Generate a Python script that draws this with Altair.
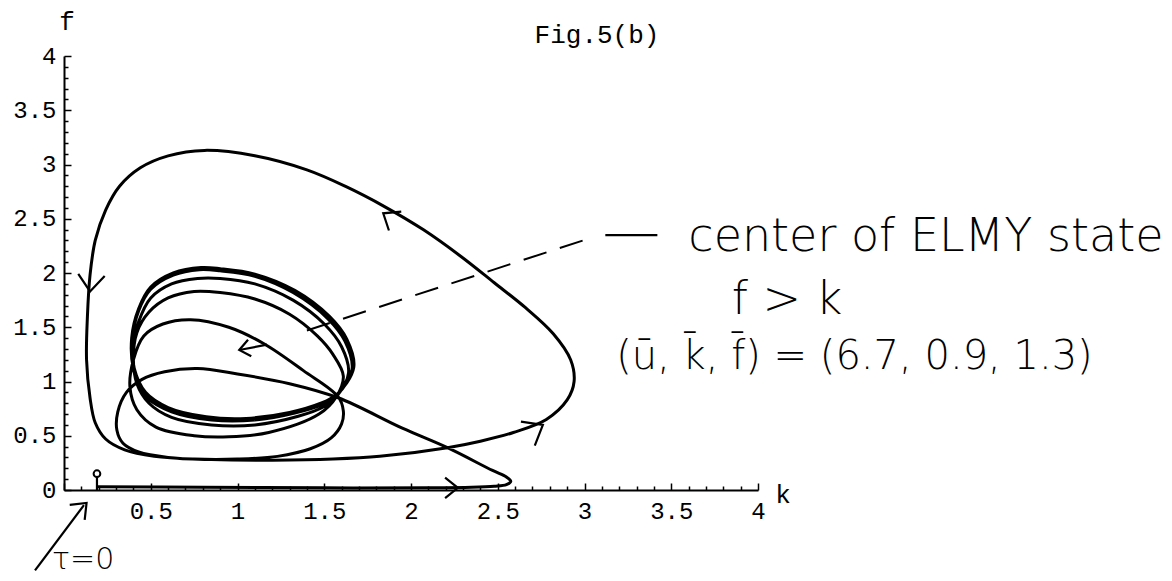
import altair as alt
import pandas as pd

# ---- trajectory in the (k, f) plane, listed in order of increasing tau ----
axis_run = [(0.19, 0.03), (0.8, 0.025), (1.5, 0.02), (2.1, 0.02), (2.35, 0.025),
            (2.48, 0.035), (2.55, 0.05), (2.575, 0.08), (2.55, 0.12), (2.47, 0.18)]
rise = [(2.21, 0.39), (1.95, 0.57), (1.58, 0.85), (1.3, 0.98), (1.0, 1.07),
        (0.77, 1.12), (0.58, 1.09), (0.45, 1.02), (0.36, 0.9), (0.31, 0.72),
        (0.305, 0.55), (0.34, 0.43), (0.43, 0.35), (0.6, 0.3), (0.85, 0.28)]
excursion = [(1.2, 0.275), (1.55, 0.285), (1.82, 0.31), (2.21, 0.39), (2.4, 0.45),
             (2.59, 0.53), (2.78, 0.65), (2.9, 0.83), (2.94, 1.0), (2.92, 1.2),
             (2.82, 1.44), (2.66, 1.68), (2.48, 1.91), (2.29, 2.15), (2.07, 2.4),
             (1.85, 2.61), (1.62, 2.8), (1.4, 2.95), (1.1, 3.08), (0.81, 3.13),
             (0.6, 3.08), (0.44, 2.97), (0.32, 2.8), (0.24, 2.58), (0.18, 2.3),
             (0.15, 1.98), (0.135, 1.6), (0.13, 1.2), (0.15, 0.85), (0.18, 0.62),
             (0.24, 0.47), (0.35, 0.37), (0.52, 0.31), (0.75, 0.285), (1.0, 0.285)]
return_leg = [(1.23, 0.31), (1.42, 0.38), (1.54, 0.48), (1.6, 0.61), (1.61, 0.73),
              (1.58, 0.86)]
loop_a = [(1.38, 1.1), (1.15, 1.35), (0.95, 1.5), (0.73, 1.57), (0.57, 1.53),
          (0.46, 1.42), (0.40, 1.2), (0.38, 0.95), (0.42, 0.74), (0.53, 0.58),
          (0.75, 0.5), (0.95, 0.49), (1.18, 0.53), (1.47, 0.70), (1.57, 0.86)]
loop_b = [(1.61, 1.05), (1.55, 1.25), (1.46, 1.42), (1.3, 1.62), (1.1, 1.76),
          (0.9, 1.82), (0.75, 1.83), (0.6, 1.77), (0.49, 1.64), (0.42, 1.45),
          (0.40, 1.2), (0.42, 0.98), (0.49, 0.8), (0.62, 0.67), (0.85, 0.6),
          (1.1, 0.6), (1.35, 0.68), (1.5, 0.77), (1.57, 0.86)]
loop_c = [(1.64, 1.08), (1.6, 1.32), (1.5, 1.53), (1.32, 1.75), (1.1, 1.9),
          (0.9, 1.95), (0.77, 1.95), (0.62, 1.9), (0.5, 1.77), (0.43, 1.55),
          (0.395, 1.3), (0.41, 1.05), (0.48, 0.85), (0.62, 0.72), (0.85, 0.645),
          (1.1, 0.645), (1.33, 0.71), (1.49, 0.79), (1.57, 0.87)]
loop_d = [(1.66, 1.11), (1.62, 1.37), (1.52, 1.58), (1.32, 1.82), (1.1, 1.97),
          (0.9, 2.02), (0.78, 2.03), (0.63, 1.98), (0.5, 1.85), (0.43, 1.65),
          (0.395, 1.4), (0.405, 1.12), (0.47, 0.9), (0.6, 0.76), (0.82, 0.675),
          (1.05, 0.66), (1.3, 0.715), (1.48, 0.8), (1.57, 0.875)]
loop_e = [(1.67, 1.13), (1.63, 1.39), (1.53, 1.6), (1.33, 1.84), (1.1, 1.99),
          (0.9, 2.04), (0.79, 2.05), (0.63, 2.0), (0.5, 1.87), (0.43, 1.67),
          (0.39, 1.4), (0.40, 1.12), (0.465, 0.89), (0.6, 0.75), (0.82, 0.665),
          (1.05, 0.65), (1.3, 0.705), (1.48, 0.795), (1.57, 0.875)]

# ---- axis ticks ----
x_major = [0.5, 1, 1.5, 2, 2.5, 3, 3.5, 4]
y_major = [0, 0.5, 1, 1.5, 2, 2.5, 3, 3.5, 4]
minor = [round(i * 0.1, 1) for i in range(41) if i % 5 != 0]

# ---- hand annotations ----
guide_k = [1.40, 3.03]                    # dashed pointer to the centre
guide_f = [1.47, 2.32]
dash_k = [3.12, 3.42]                     # stroke before the note
dash_f = [2.35, 2.35]
shaft_k = [1.17, 1.01]                    # shaft of the inner arrow
shaft_f = [1.34, 1.29]
tau_k = [-0.167, 0.115]                   # pointer to the starting point
tau_f = [-0.74, -0.14]
mark_k = [0.19, 0.19]                     # stem of the start mark
mark_f = [0.0, 0.12]

arrow_k = [0.15, 1.84, 2.76, 2.27, 1.01, 0.13]
arrow_f = [1.83, 2.55, 0.60, 0.02, 1.29, -0.12]
arrow_angle = [95, 213, 330, 0, 169, 315]
arrow_size = [1100, 800, 1200, 650, 450, 700]

note_k = [4.968, 4.167, 4.556, 0.11]
note_f = [2.332, 1.751, 1.226, -0.645]
note_text = ["center of ELMY state", "f > k",
             "(u\u0304, k\u0304, f\u0304) = (6.7, 0.9, 1.3)", "\u03c4=0"]
note_size = [46, 46, 40, 30]

W, H = 694, 434
xs = alt.Scale(domain=[0, 4], nice=False, zero=False)
ys = alt.Scale(domain=[0, 4], nice=False, zero=False)

rows = []
for seg in [axis_run, rise, excursion, return_leg, loop_a, loop_b, loop_c, loop_d, loop_e]:
    for k, f in seg:
        rows.append({"i": len(rows), "k": k, "f": f})
traj = pd.DataFrame(rows)

mono = "Liberation Mono"
hand = "DejaVu Sans"

traj_line = alt.Chart(traj).mark_line(
    color="black", strokeWidth=3, interpolate="catmull-rom", clip=False
).encode(
    x=alt.X("k:Q", scale=xs, axis=alt.Axis(
        orient="bottom", values=x_major, format="~g", ticks=False, grid=False,
        domainColor="black", domainWidth=2, labelFont=mono, labelFontSize=24,
        labelColor="black", labelPadding=9, title=None, labelFlush=False)),
    y=alt.Y("f:Q", scale=ys, axis=alt.Axis(
        orient="left", values=y_major, format="~g", ticks=False, grid=False,
        domainColor="black", domainWidth=2, labelFont=mono, labelFontSize=24,
        labelColor="black", labelPadding=8, title=None, labelFlush=False)),
    order="i:Q",
)


def tick_layer(vals, size):
    return alt.Chart(traj).mark_point(opacity=0).encode(
        x=alt.X("k:Q", scale=xs, axis=alt.Axis(
            orient="top", offset=-H, values=vals, labels=False, domain=False,
            grid=False, ticks=True, tickSize=size, tickWidth=1.5,
            tickColor="black", title=None)),
        y=alt.Y("f:Q", scale=ys, axis=alt.Axis(
            orient="right", offset=-W, values=vals, labels=False, domain=False,
            grid=False, ticks=True, tickSize=size, tickWidth=1.5,
            tickColor="black", title=None)),
    )


major_ticks = tick_layer(y_major, 7)
minor_ticks = tick_layer(minor, 4)


def segment(ks, fs, name):
    return pd.DataFrame({"k": ks, "f": fs, "seg": name, "j": range(len(ks))})


segs = pd.concat([
    segment(dash_k, dash_f, "dash"),
    segment(shaft_k, shaft_f, "shaft"),
    segment(tau_k, tau_f, "tau"),
    segment(mark_k, mark_f, "mark"),
])

hand_lines = alt.Chart(segs).mark_line(
    color="black", strokeWidth=2.2, clip=False
).encode(
    x=alt.X("k:Q", scale=xs, axis=None),
    y=alt.Y("f:Q", scale=ys, axis=None),
    detail="seg:N", order="j:Q",
)

guide = alt.Chart(pd.DataFrame({"k": guide_k, "f": guide_f})).mark_line(
    color="black", strokeWidth=2, strokeDash=[24, 14], clip=False
).encode(
    x=alt.X("k:Q", scale=xs, axis=None),
    y=alt.Y("f:Q", scale=ys, axis=None),
)

arrows = alt.Chart(pd.DataFrame({
    "k": arrow_k, "f": arrow_f, "a": arrow_angle, "s": arrow_size
})).mark_point(
    shape="M -1 -0.8 L 0 0 L -1 0.8", filled=False, color="black",
    strokeWidth=2.2, opacity=1, clip=False
).encode(
    x=alt.X("k:Q", scale=xs, axis=None),
    y=alt.Y("f:Q", scale=ys, axis=None),
    angle=alt.Angle("a:Q", scale=None),
    size=alt.Size("s:Q", scale=None),
)

start_mark = alt.Chart(pd.DataFrame({"k": [0.19], "f": [0.15]})).mark_point(
    shape="circle", filled=False, color="black", strokeWidth=2, size=45,
    opacity=1, clip=False
).encode(
    x=alt.X("k:Q", scale=xs, axis=None),
    y=alt.Y("f:Q", scale=ys, axis=None),
)

mono_labels = alt.Chart(pd.DataFrame({
    "k": [3.072, 0.017, 4.144],
    "f": [4.194, 4.313, -0.046],
    "t": ["Fig.5(b)", "f", "k"],
})).mark_text(
    font=mono, fontSize=26, color="black", align="center", baseline="middle",
    clip=False
).encode(
    x=alt.X("k:Q", scale=xs, axis=None),
    y=alt.Y("f:Q", scale=ys, axis=None),
    text="t:N",
)

notes = alt.Chart(pd.DataFrame({
    "k": note_k, "f": note_f, "t": note_text, "fs": note_size,
})).mark_text(
    font=hand, fontWeight=200, color="black", align="center", baseline="middle",
    clip=False
).encode(
    x=alt.X("k:Q", scale=xs, axis=None),
    y=alt.Y("f:Q", scale=ys, axis=None),
    text="t:N",
    size=alt.Size("fs:Q", scale=None),
)

chart = alt.layer(
    traj_line, major_ticks, minor_ticks, guide, hand_lines, arrows,
    start_mark, mono_labels, notes,
).resolve_axis(
    x="independent", y="independent"
).properties(
    width=W, height=H,
    padding={"left": 64, "top": 56, "right": 1172 - 64 - W, "bottom": 581 - 56 - H},
    autosize="none",
    background="white",
).configure_view(strokeWidth=0)

chart.save("out.html", embed_options={"renderer": "svg", "actions": False})
